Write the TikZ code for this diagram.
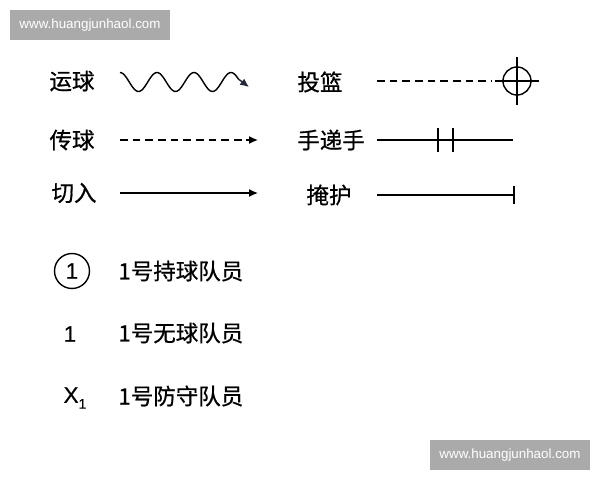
\documentclass[tikz,border=0pt]{standalone}
\usepackage{fontspec}
\usepackage{xcolor}
\usepackage{tikz}
\usetikzlibrary{arrows.meta}
\newfontfamily\cjk[FakeBold=0.7]{Noto Sans CJK SC}
\newfontfamily\wmfont{Liberation Sans}
\newfontfamily\numfont[FakeBold=0.4]{Liberation Sans}
\definecolor{wmgray}{RGB}{170,170,170}
\definecolor{tipnavy}{RGB}{35,38,58}

\begin{document}
\begin{tikzpicture}[x=0.02cm, y=-0.02cm,
    every node/.style={font=\cjk\fontsize{12.8}{15}\selectfont, inner sep=0pt},
    wm/.style={fill=wmgray, text=white, font=\wmfont\fontsize{7.6}{9}\selectfont,
        minimum width=3.2cm, minimum height=0.6cm},
    num/.style={font=\numfont\fontsize{12.8}{15}\selectfont},
    mv/.style={line width=0.8pt},
    tip/.style={-{Latex[length=5pt,width=4.5pt]}},
    dsh/.style={dash pattern=on 4.4pt off 2.8pt}]
    \useasboundingbox (0,0) rectangle (600,480);
    % watermarks
    \node[wm] (wmA) at (90,25) {www.huangjunhaol.com};
    \node[wm] (wmB) at (510,455) {www.huangjunhaol.com};
    % left column
    \node (dribble) at (72,81) {运球};
    \node (pass) at (72,140) {传球};
    \node (cut) at (74,193) {切入};
    \draw[mv] plot[domain=0:3.2, samples=90]
        ({120+37*\x}, {82-9.5*cos(360*\x)}) coordinate (dribS);
    \coordinate (dribE) at (249,87);
    \draw[mv, tip, tipnavy] (dribS) -- (dribE);
    \coordinate (passS) at (120,140);
    \coordinate (passE) at (258,140);
    \draw[mv, dsh, tip] (passS) -- (passE);
    \coordinate (cutS) at (120,193);
    \coordinate (cutE) at (258,193);
    \draw[mv, tip] (cutS) -- (cutE);
    % right column
    \node (shot) at (320,82) {投篮};
    \node (handoff) at (331,140) {手递手};
    \node (screen) at (329,195) {掩护};
    \node[draw, circle, mv, minimum size=0.56cm] (basket) at (517,81) {};
    \coordinate (shotS) at (377,81);
    \draw[mv, dsh] (shotS) -- ([xshift=-0.22cm]basket.west);
    \draw[mv] ([xshift=-0.15cm]basket.west) -- ([xshift=0.15cm]basket.east);
    \draw[mv] ([yshift=0.18cm]basket.north) -- ([yshift=-0.18cm]basket.south);
    \coordinate (handS) at (377,140);
    \coordinate (handE) at (513,140);
    \draw[mv] (handS) -- (handE);
    \foreach \t in {438,453}
        \draw[mv] (\t,128) -- (\t,152);
    \coordinate (scrS) at (377,195);
    \coordinate (scrE) at (514,195);
    \draw[mv] (scrS) -- (scrE);
    \draw[mv] ([yshift=0.18cm]scrE) -- ([yshift=-0.18cm]scrE);
    % players
    \node[draw, circle, mv, minimum size=0.7cm, num] (p1) at (72,271) {1};
    \node[num] (o1) at (70,334) {1};
    \node[num] (x1) at (75,398) {X\raisebox{-0.5ex}{\fontsize{8}{9}\selectfont 1}};
    \node[anchor=west] (p1txt) at (118,271) {1号持球队员};
    \node[anchor=west] (o1txt) at (118,333) {1号无球队员};
    \node[anchor=west] (x1txt) at (118,396) {1号防守队员};
\end{tikzpicture}
\end{document}
